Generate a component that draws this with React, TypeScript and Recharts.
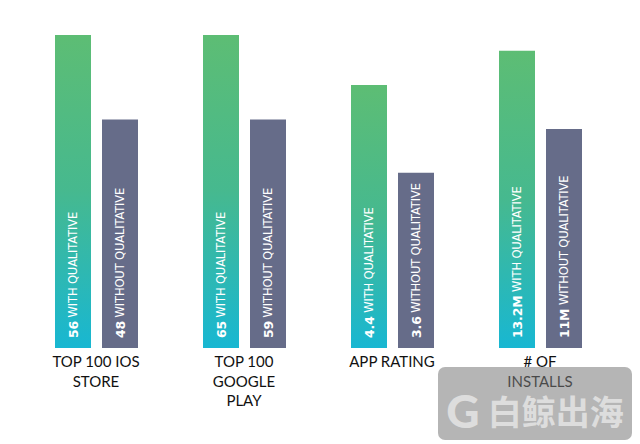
import { BarChart, Bar, XAxis, YAxis, LabelList } from "recharts"

// category labels (split into lines as in the picture)
const categories = [
  ["TOP 100 IOS", "STORE"],
  ["TOP 100", "GOOGLE", "PLAY"],
  ["APP RATING"],
  ["# OF", "INSTALLS"],
]

// bar heights as drawn (relative scale, tallest = 100)
const withHeights = [100, 100, 84, 95]
const withoutHeights = [73, 73, 56, 70]

// numbers printed inside the bars
const withLabels = ["56", "65", "4.4", "13.2M"]
const withoutLabels = ["48", "59", "3.6", "11M"]

const data = categories.map((c, i) => ({
  name: c.join(" "),
  withQ: withHeights[i],
  withoutQ: withoutHeights[i],
  withLabel: withLabels[i],
  withoutLabel: withoutLabels[i],
}))

const FONT = "Lato, 'Open Sans', sans-serif"
const LABEL_FONT = "'DejaVu Sans', Verdana, sans-serif"

const CategoryTick = (props: any) => {
  const { x, y, payload } = props
  const lines = categories[payload.index] || [payload.value]
  return (
    <text x={x} y={y} textAnchor="middle" fill="#111" fontSize={15} fontFamily={FONT}>
      {lines.map((l: string, i: number) => (
        <tspan key={i} x={x} dy={i === 0 ? 11 : 19.5}>
          {l}
        </tspan>
      ))}
    </text>
  )
}

const makeBarLabel = (key: string, text: string) => (props: any) => {
  const { x, y, width, height, index } = props
  const cx = x + width / 2
  const by = y + height - 10
  const num = data[index][key]
  return (
    <text
      x={cx}
      y={by}
      transform={`rotate(-90 ${cx} ${by})`}
      textAnchor="start"
      dominantBaseline="central"
      fill="#fff"
      fontSize={11.5}
      letterSpacing={-0.15}
      fontFamily={LABEL_FONT}
    >
      <tspan fontWeight={700} fontSize={12.5}>{num}</tspan>
      <tspan> {text}</tspan>
    </text>
  )
}

export default function App() {
  return (
    <div style={{ position: "absolute", left: 0, top: 0, width: 640, height: 444, background: "#fff" }}>
      <BarChart
        width={640}
        height={444}
        data={data}
        margin={{ top: 35, right: 26, left: 22, bottom: 0 }}
        barSize={36}
        barGap={11}
      >
        <defs>
          <linearGradient id="greenGrad" x1="0" y1="0" x2="0" y2="1">
            <stop offset="0%" stopColor="#5dbd74" />
            <stop offset="50%" stopColor="#46b98f" />
            <stop offset="100%" stopColor="#18b7d2" />
          </linearGradient>
        </defs>
        <XAxis
          dataKey="name"
          axisLine={false}
          tickLine={false}
          height={96}
          interval={0}
          tick={<CategoryTick />}
        />
        <YAxis hide domain={[0, 100]} />
        <Bar dataKey="withQ" fill="url(#greenGrad)" isAnimationActive={false}>
          <LabelList dataKey="withQ" content={makeBarLabel("withLabel", "WITH QUALITATIVE")} />
        </Bar>
        <Bar dataKey="withoutQ" fill="#666c89" isAnimationActive={false}>
          <LabelList dataKey="withoutQ" content={makeBarLabel("withoutLabel", "WITHOUT QUALITATIVE")} />
        </Bar>
      </BarChart>
      <div
        style={{
          position: "absolute",
          left: 438,
          top: 367,
          width: 194,
          height: 73,
          boxSizing: "border-box",
          paddingTop: 14,
          borderRadius: 7,
          background: "rgba(120,120,120,0.55)",
          display: "flex",
          alignItems: "center",
          justifyContent: "center",
          gap: 8,
          color: "rgba(235,235,235,0.75)",
          fontFamily: "'Noto Sans CJK SC', sans-serif",
          fontWeight: 700,
          fontSize: 34,
          lineHeight: 1,
          pointerEvents: "none",
        }}
      >
        <span style={{ fontFamily: FONT, fontSize: 46, fontWeight: 900 }}>G</span>
        <span>白鲸出海</span>
      </div>
    </div>
  )
}
